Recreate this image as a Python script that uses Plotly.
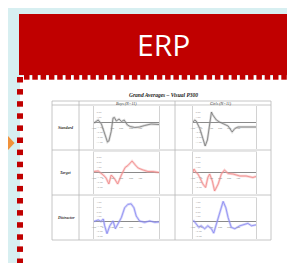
import plotly.graph_objects as go

W, H = 295, 263

# ---------------- data ----------------
banner_text = "ERP"
chart_title = "Grand Averages – Visual P300"
groups = ["Boys (N=11)", "Girls (N=11)"]
conditions = ["Standard", "Target", "Distractor"]
x_tick_vals = [-100, 0, 100, 200, 300, 400]

t_std_boys = [-100, -75, -55, -20, 10, 45, 60, 85, 105, 120, 140, 170, 195, 225, 260, 290, 340, 390, 445, 515, 600]
v_std_boys = [-0.1, 0.3, 0.5, -0.3, -1.8, -3.9, -3.7, -1.8, 0.9, 1.0, 0.3, 0.7, 0.2, 0.5, -0.5, -0.8, -1.0, -0.9, -0.6, -0.3, -0.4]

t_std_girls = [-100, -80, -65, -25, 10, 35, 60, 80, 105, 120, 160, 195, 235, 290, 335, 365, 400, 455, 530, 600]
v_std_girls = [0.1, 0.5, 0.3, -1.2, -3.2, -4.7, -3.5, -0.5, 2.1, 1.5, 0.5, 0.1, -0.2, -0.7, -1.9, -1.2, -0.9, -0.9, -0.9, -0.9]

t_tgt_boys = [-100, -55, 0, 30, 60, 85, 120, 155, 195, 235, 265, 310, 345, 375, 430, 480, 535, 600]
v_tgt_boys = [0.2, 0.3, -0.5, -1.1, -2.3, -0.5, -1.2, -2.3, -0.5, 1.0, 1.4, 2.3, 1.5, 0.9, 0.5, 0.2, 0.2, 0.0]

t_tgt_girls = [-100, -90, -65, -45, -25, 10, 40, 65, 85, 115, 140, 180, 215, 250, 290, 345, 420, 490, 565, 600]
v_tgt_girls = [0.0, 0.7, 0.0, -0.3, -1.0, -2.3, -3.0, -1.0, -0.3, -1.7, -3.7, -2.3, -0.3, 0.5, -0.2, -0.3, -0.7, -0.7, -1.0, -0.8]

t_dis_boys = [-100, -55, -25, 0, 15, 40, 70, 105, 130, 160, 195, 230, 265, 300, 330, 355, 390, 445, 500, 555, 600]
v_dis_boys = [0.0, 0.3, 0.0, 0.5, -0.9, -2.5, -0.9, 0.1, -1.5, -0.5, 0.8, 2.8, 3.5, 3.6, 2.8, 1.1, 0.1, -0.2, 0.1, -0.2, -0.1]

t_dis_girls = [-100, -90, -65, -35, -10, 30, 65, 105, 130, 160, 195, 235, 265, 290, 325, 365, 420, 475, 510, 550, 600]
v_dis_girls = [0.0, 0.1, -0.5, -1.2, -0.9, -1.5, -0.9, -1.5, -2.4, -0.5, 2.1, 4.1, 2.8, 0.8, -1.2, -1.5, -0.9, -0.5, -0.4, -0.9, -0.7]

series = [
    [(t_std_boys, v_std_boys), (t_std_girls, v_std_girls)],
    [(t_tgt_boys, v_tgt_boys), (t_tgt_girls, v_tgt_girls)],
    [(t_dis_boys, v_dis_boys), (t_dis_girls, v_dis_girls)],
]

# ---------------- layout helpers ----------------
def px(x):
    return x / W

def py(y):
    return 1 - y / H

line_colors = ["#6a6a6a", "#ef7c7c", "#7c7cef"]
band_colors = ["rgba(175,175,175,0.45)", "rgba(246,170,170,0.5)", "rgba(170,170,246,0.5)"]
y_ranges = [[-5.3, 3.3], [-4.3, 4.1], [-3.6, 4.8]]
row_px = [(98, 141), (144, 186), (190, 231)]
col_px = [(86, 151), (185, 248)]

fig = go.Figure()
layout_axes = {}
annotations = []

for r in range(3):
    for c in range(2):
        idx = r * 2 + c + 1
        xa = "x" if idx == 1 else f"x{idx}"
        ya = "y" if idx == 1 else f"y{idx}"
        t, v = series[r][c]
        fig.add_trace(go.Scatter(x=t, y=v, mode="lines", xaxis=xa, yaxis=ya,
                                 line=dict(color=band_colors[r], width=2.4),
                                 hoverinfo="skip", showlegend=False))
        fig.add_trace(go.Scatter(x=t, y=v, mode="lines", xaxis=xa, yaxis=ya,
                                 line=dict(color=line_colors[r], width=0.7),
                                 showlegend=False))
        xl, xr = col_px[c]
        yt, yb = row_px[r]
        xkey = "xaxis" if idx == 1 else f"xaxis{idx}"
        ykey = "yaxis" if idx == 1 else f"yaxis{idx}"
        layout_axes[xkey] = dict(domain=[px(xl), px(xr)], range=[-100, 600], anchor=ya,
                                 showgrid=False, zeroline=False, showticklabels=False,
                                 showline=True, linecolor="#e6e6e6", linewidth=0.6, mirror=True,
                                 fixedrange=True)
        layout_axes[ykey] = dict(domain=[py(yb), py(yt)], range=y_ranges[r], anchor=xa,
                                 showgrid=False, zeroline=True, zerolinecolor="#8a8a8a",
                                 zerolinewidth=0.7, dtick=1, tickformat=".2f",
                                 ticklabelposition="inside", tickfont=dict(size=2.5, color="#999"),
                                 ticks="", showline=True, linecolor="#d2d2d2", linewidth=0.8,
                                 mirror=True, fixedrange=True)
        for tv in x_tick_vals:
            annotations.append(dict(x=tv, y=0, xref=xa, yref=ya, text=str(tv), showarrow=False,
                                    yanchor="top", yshift=-1.5,
                                    font=dict(size=2.5, color="#888")))

shapes = []
# white content box
shapes.append(dict(type="rect", xref="paper", yref="paper", x0=px(12), x1=px(296),
                   y0=py(259.5), y1=py(68), fillcolor="white", line=dict(width=0), layer="below"))
# red banner
shapes.append(dict(type="rect", xref="paper", yref="paper", x0=px(11), x1=px(296),
                   y0=py(67), y1=py(6), fillcolor="#c00000", line=dict(width=0), layer="below"))
# top notch squares
xx = 16.0
while xx < 296:
    shapes.append(dict(type="rect", xref="paper", yref="paper", x0=px(xx), x1=px(xx + 5.5),
                       y0=py(71.7), y1=py(66.5), fillcolor="#c00000", line=dict(width=0), layer="below"))
    xx += 8.3
# left dotted column
yy = 69.0
while yy < 256:
    shapes.append(dict(type="rect", xref="paper", yref="paper", x0=px(9), x1=px(15),
                       y0=py(yy + 5.5), y1=py(yy), fillcolor="#c00000", line=dict(width=0), layer="below"))
    yy += 12.1
# bottom dotted row
xx = 15.0
while xx < 296:
    shapes.append(dict(type="rect", xref="paper", yref="paper", x0=px(xx), x1=px(xx + 5.3),
                       y0=py(262), y1=py(257), fillcolor="#c00000", line=dict(width=0), layer="below"))
    xx += 12.0
# orange arrow tip
shapes.append(dict(type="path", xref="paper", yref="paper",
                   path=f"M {px(0)},{py(128)} L {px(6.6)},{py(135)} L {px(0)},{py(142)} Z",
                   fillcolor="#f0913a", line=dict(width=0), layer="below"))
# table lines
tcol = "#b8b8b8"
for yline in [93, 97, 142, 187, 232]:
    shapes.append(dict(type="line", xref="paper", yref="paper", x0=px(44), x1=px(263),
                       y0=py(yline), y1=py(yline), line=dict(color=tcol, width=0.8), layer="below"))
for xline in [44, 71, 167, 263]:
    shapes.append(dict(type="line", xref="paper", yref="paper", x0=px(xline), x1=px(xline),
                       y0=py(93), y1=py(232), line=dict(color=tcol, width=0.8), layer="below"))

# texts
annotations.append(dict(x=px(155), y=py(37), xref="paper", yref="paper", text=banner_text,
                        showarrow=False, font=dict(family="Open Sans", size=30, color="white"),
                        xanchor="center", yanchor="middle"))
annotations.append(dict(x=px(155), y=py(87), xref="paper", yref="paper",
                        text=f"<b><i>{chart_title}</i></b>", showarrow=False,
                        font=dict(family="Liberation Serif", size=5.5, color="#222"),
                        xanchor="center", yanchor="middle"))
for gx, g in zip([118, 213], groups):
    annotations.append(dict(x=px(gx), y=py(95.2), xref="paper", yref="paper",
                            text=f"<i>{g}</i>", showarrow=False,
                            font=dict(family="Liberation Serif", size=4, color="#333"),
                            xanchor="center", yanchor="middle"))
for ry, cond in zip([119.5, 164.5, 209.5], conditions):
    annotations.append(dict(x=px(57.5), y=py(ry), xref="paper", yref="paper",
                            text=f"<b><i>{cond}</i></b>", showarrow=False,
                            font=dict(family="Liberation Serif", size=4, color="#333"),
                            xanchor="center", yanchor="middle"))

fig.update_layout(width=W, height=H, margin=dict(l=0, r=0, t=0, b=0),
                  paper_bgcolor="#d7eff1", plot_bgcolor="rgba(0,0,0,0)",
                  shapes=shapes, annotations=annotations, showlegend=False,
                  **layout_axes)

fig.write_html("out.html", config={"displayModeBar": False})
